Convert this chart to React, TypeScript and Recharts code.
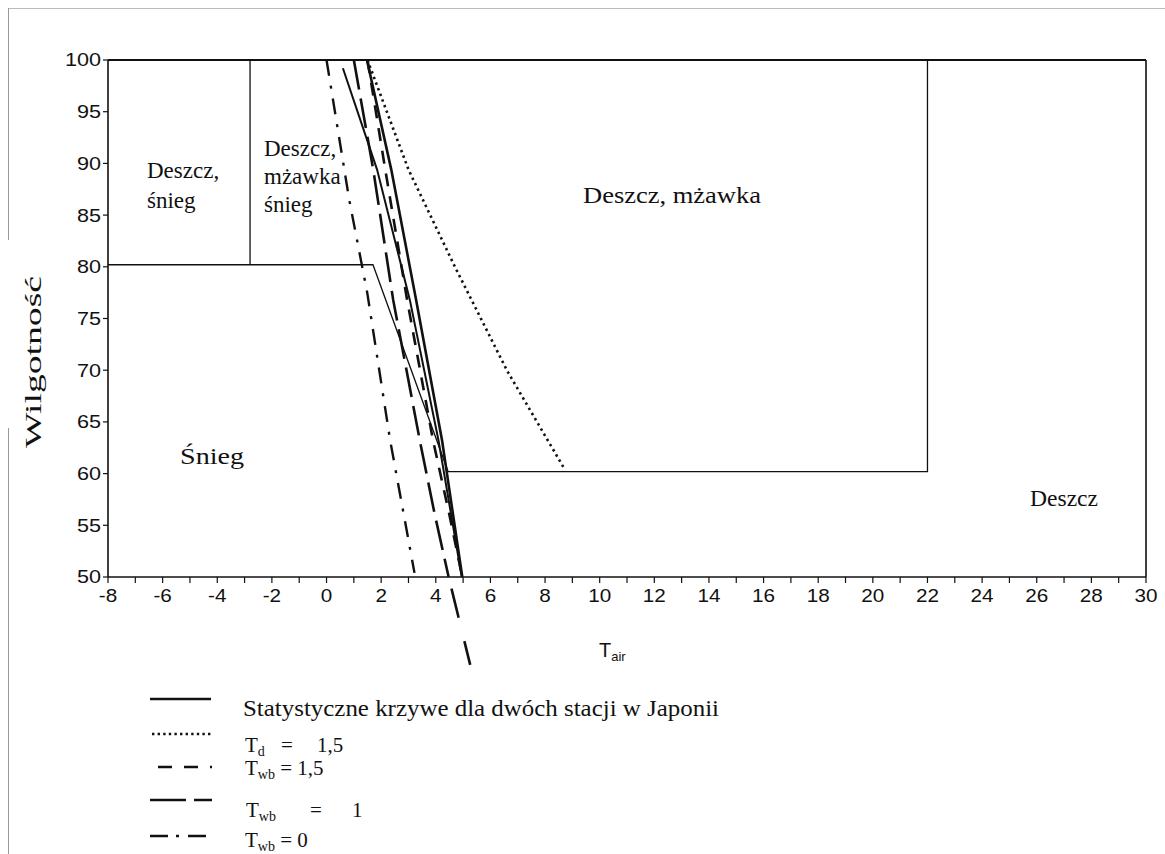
import { LineChart, Line, XAxis, YAxis, ReferenceLine } from "recharts";

// temperature ticks (every degree, labels on even values)
const tairTicks = [
  -8, -7, -6, -5, -4, -3, -2, -1, 0, 1, 2, 3, 4, 5, 6, 7, 8, 9, 10, 11, 12, 13, 14, 15, 16, 17, 18, 19,
  20, 21, 22, 23, 24, 25, 26, 27, 28, 29, 30,
];
const humidityTicks = [50, 55, 60, 65, 70, 75, 80, 85, 90, 95, 100];

// statistical curves for the two stations in Japan
const stationA = [
  { t: 1.48, h: 100 },
  { t: 2.37, h: 89.4 },
  { t: 3.28, h: 76.8 },
  { t: 4.23, h: 63.2 },
  { t: 4.97, h: 50 },
];
const stationB = [
  { t: 0.6, h: 99.2 },
  { t: 1.85, h: 89.4 },
  { t: 3.05, h: 76.8 },
  { t: 4.1, h: 63.2 },
  { t: 4.95, h: 50 },
];
// Td = 1,5
const dewPoint15 = [
  { t: 1.5, h: 100 },
  { t: 3.0, h: 89.4 },
  { t: 4.7, h: 80 },
  { t: 6.6, h: 70 },
  { t: 8.7, h: 60.5 },
];
// Twb = 1,5
const wetBulb15 = [
  { t: 1.5, h: 100 },
  { t: 2.15, h: 89.4 },
  { t: 2.95, h: 76.8 },
  { t: 3.9, h: 63.2 },
  { t: 4.5, h: 56 },
  { t: 4.97, h: 50 },
];
// Twb = 1
const wetBulb1 = [
  { t: 1.0, h: 100 },
  { t: 1.71, h: 89.4 },
  { t: 2.44, h: 76.8 },
  { t: 3.43, h: 63 },
  { t: 3.95, h: 56.2 },
  { t: 4.47, h: 50 },
];
const wetBulb1Tail = [
  { t: 4.47, h: 50 },
  { t: 5.26, h: 41.5 },
];
// Twb = 0
const wetBulb0 = [
  { t: 0, h: 100 },
  { t: 0.83, h: 86.5 },
  { t: 1.49, h: 77.5 },
  { t: 2.33, h: 63.2 },
  { t: 3.22, h: 50.4 },
];
// region boundaries
const regionBoundary = [
  { t: -8, h: 80.2 },
  { t: 1.7, h: 80.2 },
  { t: 4.45, h: 60.2 },
  { t: 22, h: 60.2 },
  { t: 22, h: 100 },
];
const sleetDivider = [
  { t: -2.8, h: 80.2 },
  { t: -2.8, h: 100 },
];

const serif = "'Liberation Serif', 'Times New Roman', serif";
const sans = "'Liberation Sans', Arial, sans-serif";

// scanned figure is a bit wider than tall, so stretch the tick text
const XTick = ({ x, y, payload }: any) => {
  const v = payload.value as number;
  if (v % 2 !== 0) return null;
  return (
    <g transform={`translate(${x},${y})`}>
      <text transform="scale(1.15,1)" textAnchor="middle" dy="0.75em" fontFamily={sans} fontSize={18} fill="#111">
        {v}
      </text>
    </g>
  );
};

const YTick = ({ x, y, payload }: any) => (
  <g transform={`translate(${x},${y})`}>
    <text transform="scale(1.2,1)" textAnchor="end" dy="0.36em" fontFamily={sans} fontSize={18} fill="#111">
      {payload.value}
    </text>
  </g>
);

export default function App() {
  return (
    <div style={{ position: "absolute", left: 0, top: 0, width: 1165, height: 854, background: "#fff" }}>
      <div style={{ position: "absolute", left: 8, top: 8, width: 1157, height: 1, background: "#bbb" }} />
      <div style={{ position: "absolute", left: 8, top: 8, width: 1, height: 232, background: "#999" }} />
      <div style={{ position: "absolute", left: 8, top: 428, width: 1, height: 426, background: "#999" }} />
      <LineChart
        width={1165}
        height={854}
        margin={{ top: 60, right: 19, bottom: 247, left: 48 }}
        style={{ position: "absolute", left: 0, top: 0 }}
      >
        <XAxis
          dataKey="t"
          type="number"
          domain={[-8, 30]}
          ticks={tairTicks}
          interval={0}
          height={30}
          tickSize={6}
          tickMargin={5}
          tick={<XTick />}
          axisLine={{ stroke: "#111", strokeWidth: 1.6 }}
          tickLine={{ stroke: "#111", strokeWidth: 1.2 }}
        />
        <YAxis
          dataKey="h"
          type="number"
          domain={[50, 100]}
          ticks={humidityTicks}
          interval={0}
          width={60}
          tickSize={5}
          tickMargin={2}
          tick={<YTick />}
          axisLine={{ stroke: "#111", strokeWidth: 1.6 }}
          tickLine={{ stroke: "#111", strokeWidth: 1.2 }}
        />
        <ReferenceLine y={100} stroke="#111" strokeWidth={2} ifOverflow="visible" />
        <ReferenceLine x={30} stroke="#111" strokeWidth={1.6} ifOverflow="visible" />

        <Line data={regionBoundary} dataKey="h" stroke="#111" strokeWidth={1.3} dot={false} activeDot={false} isAnimationActive={false} />
        <Line data={sleetDivider} dataKey="h" stroke="#111" strokeWidth={1.3} dot={false} activeDot={false} isAnimationActive={false} />

        <Line data={wetBulb0} dataKey="h" stroke="#111" strokeWidth={2.4} strokeDasharray="16 10 3 10" dot={false} activeDot={false} isAnimationActive={false} />
        <Line data={wetBulb1} dataKey="h" stroke="#111" strokeWidth={2.6} strokeDasharray="30 9" dot={false} activeDot={false} isAnimationActive={false} />
        <ReferenceLine
          segment={wetBulb1Tail.map((p) => ({ x: p.t, y: p.h }))}
          stroke="#111"
          strokeWidth={2.6}
          strokeDasharray="0 12 30 12"
          ifOverflow="visible"
        />
        <Line data={wetBulb15} dataKey="h" stroke="#111" strokeWidth={2.6} strokeDasharray="13 10" dot={false} activeDot={false} isAnimationActive={false} />
        <Line data={stationB} dataKey="h" stroke="#111" strokeWidth={2} dot={false} activeDot={false} isAnimationActive={false} />
        <Line data={stationA} dataKey="h" stroke="#111" strokeWidth={2.6} dot={false} activeDot={false} isAnimationActive={false} />
        <Line data={dewPoint15} dataKey="h" stroke="#111" strokeWidth={2.6} strokeDasharray="2.4 3.6" dot={false} activeDot={false} isAnimationActive={false} />

        {/* region labels */}
        <text fontFamily={serif} fontSize={23} fill="#111">
          <tspan x={147} y={178}>Deszcz,</tspan>
          <tspan x={147} y={208}>śnieg</tspan>
        </text>
        <text fontFamily={serif} fontSize={23} fill="#111">
          <tspan x={264} y={156}>Deszcz,</tspan>
          <tspan x={264} y={184}>mżawka</tspan>
          <tspan x={264} y={212}>śnieg</tspan>
        </text>
        <text x={583} y={203} fontFamily={serif} fontSize={23} textLength={178} lengthAdjust="spacingAndGlyphs" fill="#111">
          Deszcz, mżawka
        </text>
        <text x={180} y={464} fontFamily={serif} fontSize={23} textLength={64} lengthAdjust="spacingAndGlyphs" fill="#111">Śnieg</text>
        <text x={1030} y={506} fontFamily={serif} fontSize={23} textLength={68} lengthAdjust="spacingAndGlyphs" fill="#111">Deszcz</text>

        {/* axis titles */}
        <text x={36} y={362} transform="rotate(-90 36 362)" textAnchor="middle" dominantBaseline="middle" fontFamily={serif} fontSize={23} textLength={172} lengthAdjust="spacingAndGlyphs" fill="#111">
          Wilgotność
        </text>
        <text x={599} y={657} fontFamily={sans} fontSize={20} fill="#111">
          T<tspan fontSize={13} dy={4}>air</tspan>
        </text>

        {/* legend */}
        <line x1={150} y1={699} x2={211} y2={699} stroke="#111" strokeWidth={2.6} />
        <text x={243} y={716} fontFamily={serif} fontSize={23} textLength={476} lengthAdjust="spacingAndGlyphs" fill="#111">
          Statystyczne krzywe dla dwóch stacji w Japonii
        </text>

        <line x1={152} y1={734} x2={212} y2={734} stroke="#111" strokeWidth={2.6} strokeDasharray="2.4 3.2" />
        <text y={752} fontFamily={serif} fontSize={21} fill="#111">
          <tspan x={245}>T</tspan>
          <tspan fontSize={14} dy={4}>d</tspan>
          <tspan x={281} dy={-4}>=</tspan>
          <tspan x={317}>1,5</tspan>
        </text>

        <line x1={158} y1={767} x2={212} y2={767} stroke="#111" strokeWidth={2.6} strokeDasharray="14 12" />
        <text y={775} fontFamily={serif} fontSize={21} fill="#111">
          <tspan x={245}>T</tspan>
          <tspan fontSize={14} dy={4}>wb</tspan>
          <tspan dy={-4}> = 1,5</tspan>
        </text>

        <line x1={150} y1={800} x2={212} y2={800} stroke="#111" strokeWidth={2.6} strokeDasharray="36 8" />
        <text y={817} fontFamily={serif} fontSize={21} fill="#111">
          <tspan x={246}>T</tspan>
          <tspan fontSize={14} dy={4}>wb</tspan>
          <tspan x={310} dy={-4}>=</tspan>
          <tspan x={352}>1</tspan>
        </text>

        <line x1={150} y1={836} x2={206} y2={836} stroke="#111" strokeWidth={2.6} strokeDasharray="18 8 3 9" />
        <text y={847} fontFamily={serif} fontSize={21} fill="#111">
          <tspan x={245}>T</tspan>
          <tspan fontSize={14} dy={4}>wb</tspan>
          <tspan dy={-4}> = 0</tspan>
        </text>
      </LineChart>
    </div>
  );
}
